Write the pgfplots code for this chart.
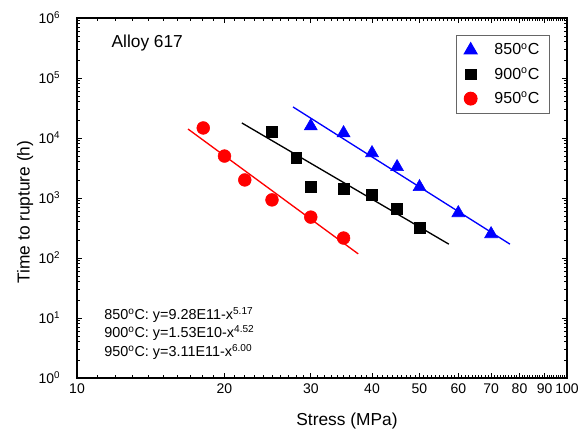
\documentclass[border=0pt]{standalone}
\usepackage{fontspec}
\setmainfont{Liberation Sans}
\usepackage{pgfplots}
\pgfplotsset{compat=1.18}
\begin{document}
\begin{tikzpicture}
\useasboundingbox (-57.75pt,-42pt) rectangle (381.75pt,283.5pt);
\begin{axis}[
  at={(0,0)}, anchor=south west,
  scale only axis, width=367.5pt, height=270pt,
  xmode=log, ymode=log,
  xmin=10, xmax=100, ymin=1, ymax=1e6,
  axis line style={line width=0.9pt},
  every tick/.style={black, line width=0.6pt},
  major tick length=4pt, minor tick length=2.2pt,
  xtick={10,20,30,40,50,60,70,80,90,100},
  xticklabels={10,20,30,40,50,60,70,80,90,100},
  minor xtick={11,12,...,99},
  ytick={1,10,100,1000,10000,100000,1000000},
  yticklabels={10\textsuperscript{0},10\textsuperscript{1},10\textsuperscript{2},10\textsuperscript{3},10\textsuperscript{4},10\textsuperscript{5},10\textsuperscript{6}},
  minor ytick={2,3,4,5,6,7,8,9,20,30,40,50,60,70,80,90,200,300,400,500,600,700,800,900,2000,3000,4000,5000,6000,7000,8000,9000,20000,30000,40000,50000,60000,70000,80000,90000,200000,300000,400000,500000,600000,700000,800000,900000},
  xticklabel style={font=\fontsize{10.5}{12}\selectfont, yshift=-1pt},
  yticklabel style={font=\fontsize{10.5}{12}\selectfont, xshift=-9pt},
  xlabel={Stress (MPa)},
  ylabel={Time to rupture (h)},
  xlabel style={font=\fontsize{13}{15}\selectfont, at={(axis description cs:0.551,-0.1185)}, anchor=center},
  ylabel style={font=\fontsize{13}{15}\selectfont, at={(axis description cs:-0.106,0.461)}, anchor=center},
  legend style={at={(axis description cs:0.965,0.953)}, anchor=north east,
    draw=black!60, line width=0.8pt, font=\fontsize{12}{14.5}\selectfont,
    row sep=4pt, inner xsep=5.5pt, inner ysep=4pt,
    /tikz/every odd column/.append style={column sep=11pt}},
  legend cell align=left,
  clip=true,
]
% fitted lines
\addplot[blue, line width=1pt, forget plot] coordinates {(27.6,32900) (76.5,170)};
\addplot[black, line width=1pt, forget plot] coordinates {(21.7,17800) (57.4,170)};
\addplot[red, line width=1pt, forget plot] coordinates {(16.85,14100) (37.5,117)};
% data
\addplot[only marks, mark=triangle*, mark size=5.6pt, color=blue, fill=blue]
  coordinates {(30,15800) (35,12100) (40,5620) (45,3290) (50,1525) (60,562) (70,251)};
\addlegendentry{850\textsuperscript{o}C}
\addplot[only marks, mark=square*, mark size=4pt, color=black, fill=black]
  coordinates {(25,12600) (28,4640) (30,1520) (35,1410) (40,1120) (45,655) (50,316)};
\addlegendentry{900\textsuperscript{o}C}
\addplot[only marks, mark=*, mark size=4.8pt, color=red, fill=red]
  coordinates {(18.1,14700) (20,5000) (22,2000) (25,930) (30,480) (35,215)};
\addlegendentry{950\textsuperscript{o}C}
\node[anchor=west, font=\fontsize{13}{15}\selectfont] at (axis description cs:0.061,0.93) {Alloy 617};
\node[anchor=west, font=\fontsize{10.8}{13}\selectfont] at (axis description cs:0.046,0.175) {850\textsuperscript{o}C: y=9.28E11-x\textsuperscript{5.17}};
\node[anchor=west, font=\fontsize{10.8}{13}\selectfont] at (axis description cs:0.046,0.125) {900\textsuperscript{o}C: y=1.53E10-x\textsuperscript{4.52}};
\node[anchor=west, font=\fontsize{10.8}{13}\selectfont] at (axis description cs:0.046,0.072) {950\textsuperscript{o}C: y=3.11E11-x\textsuperscript{6.00}};
\end{axis}
\end{tikzpicture}
\end{document}
